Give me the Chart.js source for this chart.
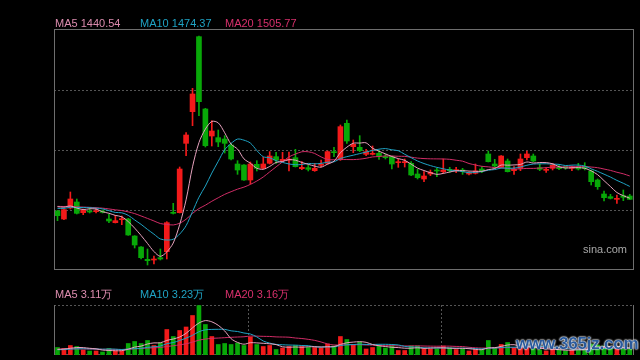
<!DOCTYPE html>
<html>
<head>
<meta charset="utf-8">
<script src="https://cdn.jsdelivr.net/npm/chart.js@4.4.0/dist/chart.umd.min.js"></script>
<style>
    body { margin: 0; background: #000; width: 640px; height: 360px; overflow: hidden; position: relative; font-family: "Liberation Sans", Arial, sans-serif; }
    canvas { position: absolute; left: 0; }
    #priceChart { top: 0; }
    #volChart { top: 280px; }
    .label { position: absolute; font-size: 11px; line-height: 13px; white-space: nowrap; }
    .ma5 { color: #dc8cae; }
    .ma10 { color: #1fa3c4; }
    .ma20 { color: #d8306c; }
    #sina { position: absolute; left: 583px; top: 243px; font-size: 11px; color: #a8a8a8; }
    #mark { position: absolute; left: 516px; top: 334px; font-size: 17px; font-weight: bold; color: #2a5a9c;
        text-shadow: 0 0 2px #fff, 0 0 2px #fff, 0 0 1px #cde; letter-spacing: -0.2px; }
</style>
</head>
<body>
<canvas id="priceChart" width="640" height="275"></canvas>
<canvas id="volChart" width="640" height="80"></canvas>

<div class="label ma5" style="left:55px; top:17px;">MA5 1440.54</div>
<div class="label ma10" style="left:140px; top:17px;">MA10 1474.37</div>
<div class="label ma20" style="left:225px; top:17px;">MA20 1505.77</div>

<div class="label ma5" style="left:55px; top:288px;">MA5 3.11万</div>
<div class="label ma10" style="left:140px; top:288px;">MA10 3.23万</div>
<div class="label ma20" style="left:225px; top:288px;">MA20 3.16万</div>

<div id="sina">sina.com</div>
<div id="mark">www.365jz.com</div>

<script>
// daily candles
const opens = [1398, 1374, 1407, 1425, 1393, 1397, 1396, 1398, 1374, 1363,
    1372, 1374, 1323, 1290, 1253, 1251, 1258, 1276, 1394, 1393,
    1601, 1696, 1921, 1704, 1623, 1618, 1614, 1596, 1539, 1536,
    1491, 1538, 1526, 1541, 1561, 1549, 1551, 1558, 1525, 1528,
    1519, 1535, 1541, 1575, 1552, 1661, 1591, 1589, 1568, 1568,
    1571, 1561, 1561, 1543, 1543, 1541, 1509, 1494, 1509, 1520,
    1516, 1523, 1519, 1521, 1509, 1511, 1524, 1569, 1539, 1529,
    1548, 1519, 1526, 1558, 1563, 1528, 1520, 1526, 1529, 1530,
    1526, 1529, 1531, 1518, 1491, 1449, 1441, 1433, 1444, 1443];
const highs = [1400, 1404, 1455, 1434, 1404, 1409, 1407, 1401, 1388, 1385,
    1383, 1376, 1324, 1291, 1284, 1263, 1284, 1366, 1421, 1530,
    1633, 1766, 1923, 1706, 1669, 1641, 1624, 1601, 1549, 1537,
    1545, 1549, 1559, 1576, 1574, 1574, 1575, 1583, 1546, 1536,
    1541, 1551, 1578, 1589, 1656, 1671, 1611, 1624, 1583, 1593,
    1579, 1569, 1563, 1554, 1554, 1546, 1523, 1516, 1521, 1526,
    1554, 1529, 1529, 1526, 1515, 1539, 1531, 1578, 1553, 1564,
    1554, 1531, 1569, 1578, 1569, 1539, 1528, 1541, 1536, 1533,
    1533, 1541, 1543, 1521, 1494, 1458, 1448, 1446, 1461, 1448];
const lows = [1369, 1372, 1404, 1389, 1387, 1392, 1392, 1392, 1363, 1362,
    1357, 1325, 1287, 1254, 1236, 1239, 1251, 1254, 1389, 1392,
    1564, 1654, 1684, 1590, 1593, 1591, 1572, 1551, 1508, 1490,
    1479, 1518, 1524, 1539, 1541, 1545, 1518, 1530, 1522, 1518,
    1517, 1530, 1538, 1561, 1550, 1601, 1573, 1576, 1564, 1566,
    1553, 1554, 1524, 1529, 1530, 1504, 1494, 1486, 1504, 1501,
    1511, 1514, 1513, 1508, 1506, 1509, 1513, 1545, 1526, 1527,
    1515, 1508, 1519, 1551, 1546, 1519, 1514, 1521, 1522, 1523,
    1519, 1521, 1521, 1476, 1463, 1428, 1434, 1421, 1429, 1432];
const closes = [1384, 1402, 1434, 1391, 1401, 1395, 1398, 1394, 1368, 1369,
    1374, 1326, 1296, 1258, 1249, 1253, 1254, 1363, 1391, 1524,
    1626, 1749, 1726, 1594, 1638, 1605, 1601, 1554, 1521, 1491,
    1539, 1526, 1539, 1563, 1551, 1553, 1554, 1531, 1529, 1523,
    1526, 1539, 1576, 1573, 1651, 1608, 1598, 1579, 1576, 1571,
    1563, 1558, 1539, 1545, 1545, 1506, 1498, 1503, 1514, 1518,
    1521, 1519, 1521, 1517, 1511, 1518, 1519, 1546, 1533, 1563,
    1516, 1523, 1554, 1569, 1548, 1523, 1522, 1536, 1525, 1528,
    1528, 1524, 1526, 1486, 1471, 1438, 1436, 1436, 1439, 1433];
// volume in 万
const volumes = [3.43, 2.97, 4.34, 3.88, 2.29, 1.83, 1.83, 1.37, 2.97, 1.83,
    1.83, 5.26, 6.17, 5.26, 6.63, 4.34, 5.48, 11.65, 8.45, 11.2,
    12.8, 18.05, 22.6, 13.94, 8.45, 4.8, 5.26, 4.8, 5.48, 4.34,
    8.23, 4.8, 3.88, 4.34, 2.51, 3.2, 3.88, 4.34, 3.88, 3.43,
    3.43, 3.2, 5.03, 4.11, 8.45, 7.08, 4.8, 5.94, 2.74, 3.43,
    4.11, 3.2, 4.11, 2.06, 2.06, 4.11, 4.11, 2.74, 2.74, 2.74,
    4.11, 3.2, 2.51, 2.74, 1.83, 2.51, 2.51, 6.63, 3.2, 4.8,
    5.71, 3.2, 3.66, 3.2, 3.2, 2.29, 1.83, 2.74, 2.29, 1.83,
    2.29, 2.74, 2.74, 5.03, 4.57, 4.11, 2.74, 3.2, 2.74, 2.74];

// sessions before the window, only used to start the moving averages
const priorCloses = [1412, 1420, 1425, 1416, 1410, 1422, 1419, 1415, 1423, 1418,
    1405, 1398, 1402, 1396, 1404, 1410, 1416, 1422, 1423];
const priorVolumes = [2.9, 3.2, 2.7, 3.0, 2.8, 3.4, 2.6, 3.1, 2.9, 3.3,
    2.4, 2.2, 2.5, 2.0, 2.3, 2.1, 2.6, 2.2, 2.4];

const monthStarts = [30, 60];
const priceGrid = [1401, 1581, 1761];

const RED = '#f21a1a';
const GREEN = '#08a808';
const MA_COLORS = { 5: '#e6a2bd', 10: '#1fa3c4', 20: '#d02c66' };

function movingAverage(values, history, n) {
    const all = history.concat(values);
    return values.map((v, i) => {
        const end = history.length + i + 1;
        const win = all.slice(Math.max(0, end - n), end);
        return win.reduce((a, b) => a + b, 0) / win.length;
    });
}

const colors = closes.map((c, i) => c >= opens[i] ? RED : GREEN);
const xScale = { type: 'linear', display: false, offset: false, min: -0.544, max: 89.66, grid: { offset: false } };

const panelFrame = {
    id: 'panelFrame',
    beforeDatasetsDraw(chart, args, opts) {
        const { ctx, chartArea: a, scales } = chart;
        ctx.save();
        ctx.lineWidth = 1;
        ctx.strokeStyle = '#555';
        ctx.setLineDash([2, 2]);
        (opts.hLines || []).forEach(v => {
            const y = Math.round(scales.y.getPixelForValue(v)) + 0.5;
            ctx.beginPath(); ctx.moveTo(a.left, y); ctx.lineTo(a.right, y); ctx.stroke();
        });
        if (opts.dottedEdges) {
            [a.top + 0.5, a.bottom - 0.5].forEach(y => {
                ctx.beginPath(); ctx.moveTo(a.left, y); ctx.lineTo(a.right, y); ctx.stroke();
            });
        }
        (opts.vLines || []).forEach(v => {
            const x = Math.ceil(scales.x.getPixelForValue(v - 0.5)) + 0.5;
            ctx.beginPath(); ctx.moveTo(x, a.top); ctx.lineTo(x, a.bottom); ctx.stroke();
        });
        ctx.restore();
    },
    afterDatasetsDraw(chart, args, opts) {
        const { ctx, chartArea: a } = chart;
        ctx.save();
        ctx.lineWidth = 1;
        ctx.strokeStyle = '#6e6e6e';
        ctx.beginPath();
        ctx.moveTo(a.left + 0.5, a.top); ctx.lineTo(a.left + 0.5, a.bottom);
        ctx.moveTo(a.right - 0.5, a.top); ctx.lineTo(a.right - 0.5, a.bottom);
        if (!opts.dottedEdges) {
            ctx.moveTo(a.left, a.top - 0.5); ctx.lineTo(a.right, a.top - 0.5);
            ctx.moveTo(a.left, a.bottom - 0.5); ctx.lineTo(a.right, a.bottom - 0.5);
        }
        ctx.stroke();
        ctx.restore();
    }
};

function maLine(values, history, n) {
    return {
        type: 'line',
        data: movingAverage(values, history, n).map((v, i) => ({ x: i, y: v })),
        borderColor: MA_COLORS[n],
        borderWidth: 1,
        pointRadius: 0,
        tension: 0.3,
        order: 1
    };
}

const baseOptions = (padding, yScale, frameOpts) => ({
    responsive: false,
    animation: false,
    events: [],
    layout: { padding: padding },
    scales: { x: xScale, y: yScale },
    plugins: {
        legend: { display: false },
        tooltip: { enabled: false },
        panelFrame: frameOpts
    }
});

new Chart(document.getElementById('priceChart'), {
    type: 'bar',
    data: {
        datasets: [
            {
                data: highs.map((h, i) => ({ x: i, y: [lows[i], h] })),
                backgroundColor: colors,
                barThickness: 1,
                grouped: false,
                order: 3
            },
            {
                data: opens.map((o, i) => ({ x: i, y: [o, closes[i]] })),
                backgroundColor: colors,
                barThickness: 5,
                minBarLength: 1,
                grouped: false,
                order: 2
            },
            maLine(closes, priorCloses, 5),
            maLine(closes, priorCloses, 10),
            maLine(closes, priorCloses, 20)
        ]
    },
    options: baseOptions({ left: 54, right: 6, top: 30, bottom: 5 },
        { display: false, min: 1221, max: 1941 },
        { hLines: priceGrid }),
    plugins: [panelFrame]
});

new Chart(document.getElementById('volChart'), {
    type: 'bar',
    data: {
        datasets: [
            {
                data: volumes.map((v, i) => ({ x: i, y: v })),
                backgroundColor: colors,
                barThickness: 4,
                grouped: false,
                order: 2
            },
            maLine(volumes, priorVolumes, 5),
            maLine(volumes, priorVolumes, 10),
            maLine(volumes, priorVolumes, 20)
        ]
    },
    options: baseOptions({ left: 54, right: 6, top: 25, bottom: 5 },
        { display: false, min: 0, max: 22.85 },
        { dottedEdges: true, vLines: monthStarts }),
    plugins: [panelFrame]
});
</script>
</body>
</html>
